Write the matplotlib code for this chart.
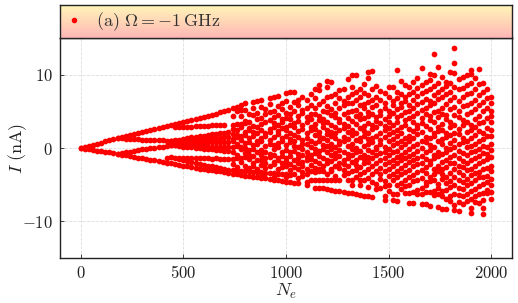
#!/usr/bin/env python

import matplotlib
matplotlib.use("Agg")
import matplotlib.pyplot as plt     # https://matplotlib.org
import numpy as np                  # https://numpy.org
from matplotlib.colors import LinearSegmentedColormap
from matplotlib.lines import Line2D
from matplotlib.ticker import FuncFormatter

# ---------------------------------------------------------------------------
# Data: current I (nA) against N_e.
# Low N_e: the fan of branches leaving the origin (sampled every 20).
# ---------------------------------------------------------------------------
ne_a = list(range(0, 721, 20))
i_a = [0.0, 0.15, 0.3, 0.45, 0.6, 0.75, 0.9, 1.05, 1.2, 1.3, 1.45, 1.6,
       1.75, 1.9, 2.0, 2.15, 2.3, 2.45, 2.6, 2.7, 2.85, 3.0, 3.15, 3.3,
       3.45, 3.6, 3.7, 3.85, 4.0, 4.1, 4.25, 4.4, 4.55, 4.7, 4.85, 5.0, 5.15]

ne_a2 = list(range(460, 701, 20))
i_a2 = [2.8, 2.8, 2.85, 2.9, 2.9, 2.95, 3.0, 3.0, 3.05, 3.1, 3.1, 3.15, 3.2]

ne_b = list(range(180, 441, 20))
i_b = [1.3, 1.3, 1.25, 1.25, 1.2, 1.2, 1.15, 1.15, 1.1, 1.1, 1.05, 1.05,
       1.0, 1.0]

ne_d = list(range(180, 441, 20))
i_d = [-0.75, -0.65, -0.55, -0.5, -0.4, -0.3, -0.2, -0.15, -0.05, 0.05,
       0.15, 0.2, 0.3, 0.4]

ne_e = list(range(0, 1021, 20))
i_e = [0.0, -0.1, -0.2, -0.25, -0.35, -0.45, -0.5, -0.6, -0.7, -0.8, -0.9,
       -1.0, -1.1, -1.2, -1.3, -1.4, -1.5, -1.6, -1.7, -1.8, -1.9, -2.0,
       -2.1, -2.2, -2.3, -2.4, -2.5, -2.6, -2.7, -2.8, -2.85, -2.95, -3.05,
       -3.15, -3.2, -3.3, -3.4, -3.5, -3.55, -3.65, -3.75, -3.8, -3.9, -4.0,
       -4.05, -4.15, -4.25, -4.3, -4.4, -4.5, -4.6, -4.7]

ne_f = list(range(420, 721, 20))
i_f = [-1.3, -1.25, -1.3, -1.3, -1.35, -1.3, -1.35, -1.4, -1.35, -1.4,
       -1.4, -1.45, -1.4, -1.45, -1.5, -1.5]

ne_g = list(range(480, 721, 20))
i_g = [-1.5, -1.6, -1.75, -1.9, -2.0, -2.15, -2.25, -2.4, -2.5, -2.65,
       -2.75, -2.9, -3.0]

ne_h = list(range(740, 1001, 20))
i_h = [-3.05, -3.1, -3.1, -3.15, -3.2, -3.25, -3.3, -3.3, -3.35, -3.4,
       -3.45, -3.5, -3.5, -3.55]

ne_mid = list(range(440, 721, 20))
i_m1 = [1.0, 1.1, 1.15, 1.25, 1.35, 1.45, 1.5, 1.6, 1.7, 1.8, 1.85, 1.95,
        2.05, 2.1, 2.2]
i_m2 = [0.9, 0.95, 0.95, 1.0, 1.05, 1.1, 1.15, 1.2, 1.25, 1.25, 1.3, 1.35,
        1.4, 1.45, 1.5]
i_m3 = [0.7, 0.7, 0.7, 0.7, 0.75, 0.75, 0.75, 0.75, 0.75, 0.8, 0.8, 0.8,
        0.8, 0.8, 0.8]
i_m4 = [0.5, 0.45, 0.45, 0.4, 0.35, 0.35, 0.3, 0.3, 0.25, 0.2, 0.2, 0.15,
        0.15, 0.1, 0.1]
i_m5 = [0.4, 0.35, 0.3, 0.2, 0.15, 0.1, 0.0, -0.05, -0.1, -0.15, -0.2,
        -0.25, -0.3, -0.35, -0.4]

# ---------------------------------------------------------------------------
# High N_e: the scattered cloud, one list of I values per N_e column.
# ---------------------------------------------------------------------------
ne_cloud_1 = list(range(740, 1001, 20))
i_cloud_1 = [
    [5.4, 4.3, 3.1, 2.6, 1.9, 1.2, 0.9, 0.1, -0.6, -1.5, -2.2],
    [5.6, 5.1, 3.3, 2.5, 1.8, 1.5, 0.6, 0.3, -0.9, -1.4, -2.6],
    [5.9, 5.2, 4.4, 3.3, 2.9, 1.6, 1.1, 0.2, -0.1, -1.3, -1.9],
    [6.1, 5.2, 3.7, 3.4, 2.2, 1.8, 0.7, 0.0, -0.7, -1.2, -2.4],
    [4.6, 3.5, 2.7, 2.4, 1.3, 0.8, -0.3, -0.9, -1.5, -2.7],
    [6.3, 5.4, 4.5, 3.0, 2.2, 1.7, 0.4, -0.2, -1.1, -2.0, -2.4],
    [6.4, 4.8, 3.9, 2.8, 2.0, 1.0, 0.6, -0.6, -1.7, -2.8],
    [6.6, 5.6, 4.1, 3.3, 2.5, 1.4, 0.9, -0.3, -1.0, -1.6, -2.3, -3.8],
    [5.3, 4.7, 3.6, 2.1, 1.6, 0.3, -0.5, -1.3, -2.0, -2.7],
    [6.8, 6.0, 4.9, 3.8, 2.6, 2.2, 1.1, 0.6, -0.8, -1.2, -2.5],
    [7.0, 5.1, 4.2, 3.4, 2.9, 1.5, 0.4, -0.2, -0.9, -1.9, -2.2, -3.9],
    [7.1, 5.7, 4.5, 3.1, 2.3, 1.9, 0.7, 0.1, -1.3, -1.6, -2.9],
    [6.2, 5.3, 3.9, 3.6, 2.7, 1.3, 1.0, -0.5, -1.1, -2.1, -2.6],
    [7.5, 6.4, 4.8, 4.1, 2.9, 2.5, 1.6, 0.4, -0.3, -1.4, -1.8, -2.5, -4.0],
]

ne_cloud_2 = list(range(1020, 1501, 20))
i_cloud_2 = [
    [7.6, 5.6, 4.6, 3.9, 3.2, 2.0, 1.2, 0.8, -0.6, -1.1, -2.2, -3.0, -3.7],
    [7.7, 6.3, 5.0, 3.4, 2.8, 1.8, 0.9, 0.3, -0.4, -1.7, -2.6, -3.5, -4.8],
    [6.6, 5.8, 4.4, 3.7, 2.3, 1.5, 0.1, -0.8, -1.3, -2.0, -2.9, -4.1, -4.8],
    [7.0, 5.2, 4.8, 3.1, 2.6, 1.1, 0.6, -0.2, -1.0, -1.9, -2.4, -3.3, -3.8],
    [6.5, 5.5, 4.2, 3.6, 2.1, 1.4, 0.5, -0.5, -1.2, -1.6, -2.8, -3.6, -4.6,
     -5.0],
    [7.3, 5.9, 4.6, 3.9, 2.9, 2.4, 1.0, 0.2, -0.9, -1.5, -2.3, -3.1, -4.4],
    [8.0, 6.8, 5.4, 4.7, 3.3, 2.6, 1.8, 0.7, -0.1, -0.7, -1.8, -2.7, -3.3,
     -4.4, -5.4],
    [8.6, 7.9, 6.0, 4.4, 3.8, 2.2, 1.6, 0.9, -0.4, -1.1, -2.0, -2.9, -3.2,
     -4.4, -5.4],
    [6.4, 5.1, 4.0, 3.4, 2.9, 1.3, 0.4, -0.2, -1.3, -2.4, -3.2, -4.4, -5.5],
    [9.1, 8.3, 7.0, 5.7, 4.9, 3.6, 2.5, 1.9, 1.1, 0.3, -0.6, -1.6, -2.1,
     -3.6, -4.4, -5.6],
    [9.0, 7.1, 5.3, 4.5, 3.1, 2.2, 1.7, 0.6, -0.1, -0.9, -1.8, -2.8, -3.2,
     -4.4, -5.7],
    [7.4, 6.2, 4.8, 4.2, 2.8, 2.0, 1.3, 0.2, -0.7, -1.4, -2.5, -3.8, -4.4,
     -5.8],
    [7.9, 6.8, 5.5, 3.9, 3.5, 2.4, 1.0, 0.5, -0.3, -1.1, -2.0, -2.7, -4.4,
     -5.9],
    [8.1, 6.4, 5.8, 4.6, 3.3, 2.7, 1.5, 0.9, -0.5, -1.6, -2.2, -3.0, -3.7,
     -6.0],
    [9.4, 7.0, 6.1, 4.9, 4.1, 3.0, 2.2, 1.2, 0.3, -0.8, -1.3, -2.5, -3.4,
     -4.4, -6.1],
    [9.9, 8.3, 7.3, 6.2, 5.0, 3.7, 2.5, 1.8, 0.6, -0.2, -1.0, -1.9, -3.2,
     -4.4, -5.0, -6.2],
    [9.9, 7.6, 6.5, 5.2, 4.4, 3.3, 2.1, 1.1, 0.0, -0.6, -1.7, -2.3, -3.0,
     -3.9, -6.3],
    [8.0, 6.9, 5.8, 4.7, 3.9, 2.7, 1.4, 0.9, -0.4, -1.2, -2.6, -3.5, -4.4,
     -5.1, -6.4],
    [8.7, 7.5, 6.0, 5.4, 4.1, 3.0, 2.3, 1.6, 0.3, -0.9, -1.5, -2.1, -3.3,
     -4.4, -6.5],
    [10.4, 9.5, 7.2, 6.3, 4.9, 4.4, 3.4, 2.0, 1.2, 0.5, -0.3, -1.2, -1.9,
     -2.9, -4.1, -5.3, -6.6],
    [10.5, 8.1, 6.6, 5.6, 4.6, 3.1, 2.6, 1.4, 0.8, -0.6, -1.4, -2.4, -3.6,
     -4.7, -6.7],
    [8.4, 7.0, 5.9, 4.2, 3.7, 2.9, 1.7, 0.2, -0.2, -1.0, -2.0, -3.1, -4.9,
     -5.6],
    [7.8, 6.6, 5.1, 4.5, 3.4, 2.1, 1.1, 0.6, -0.7, -1.6, -2.7, -3.5, -4.2,
     -5.5],
    [7.5, 6.2, 5.5, 4.0, 3.0, 2.4, 1.5, 0.1, -0.5, -1.3, -2.2, -3.2, -4.5,
     -5.2, -6.5, -7.1],
    [8.3, 6.9, 5.0, 4.4, 3.6, 2.7, 1.9, 0.9, -0.2, -0.9, -1.9, -2.9, -3.8,
     -5.0, -5.9],
]

ne_cloud_3 = list(range(1520, 2001, 20))
i_cloud_3 = [
    [8.3, 6.4, 5.8, 4.8, 3.2, 2.2, 1.2, 0.4, -0.6, -1.7, -2.5, -3.5, -4.3,
     -6.3, -7.1],
    [10.6, 7.6, 6.8, 5.3, 4.2, 3.5, 2.5, 1.6, 0.7, -0.4, -1.2, -2.1, -3.1,
     -4.0, -5.0, -6.3, -7.2],
    [9.1, 7.3, 6.1, 5.6, 4.5, 2.9, 2.0, 0.9, 0.2, -0.9, -1.6, -2.7, -3.6,
     -4.8, -5.6],
    [8.6, 7.0, 6.4, 4.9, 3.8, 3.2, 1.4, 0.5, -0.5, -1.3, -2.3, -3.3, -4.4,
     -5.2, -6.2],
    [8.3, 7.4, 5.8, 5.1, 4.1, 2.6, 1.7, 1.0, -0.2, -1.1, -1.9, -3.0, -4.0,
     -5.0, -6.2, -7.5],
    [9.0, 7.7, 6.6, 5.4, 4.4, 3.6, 2.3, 1.3, 0.3, -0.8, -1.6, -2.5, -3.7,
     -4.5, -6.0, -7.5],
    [9.6, 8.2, 7.1, 6.0, 4.8, 3.1, 2.7, 1.9, 0.6, -0.4, -1.3, -2.2, -3.3,
     -4.3, -5.7, -6.3],
    [10.9, 8.6, 7.5, 6.3, 5.2, 4.1, 3.4, 2.2, 1.0, 0.0, -1.1, -2.0, -3.0,
     -4.1, -5.4, -6.3, -7.7],
    [9.0, 7.8, 6.7, 5.5, 4.6, 3.0, 1.5, 0.8, -0.6, -1.5, -2.6, -3.4, -4.7,
     -5.1, -6.0, -7.7],
    [10.1, 9.3, 8.0, 6.4, 5.9, 4.4, 3.8, 2.6, 1.3, 0.4, -0.3, -1.8, -2.2,
     -3.9, -4.5, -6.0, -7.9],
    [12.8, 10.0, 8.5, 7.2, 6.2, 4.9, 3.5, 2.0, 1.6, 0.2, -0.9, -1.4, -2.8,
     -3.5, -4.4, -5.8, -6.4],
    [11.0, 8.9, 7.6, 6.7, 5.1, 4.2, 2.9, 2.3, 0.9, -0.5, -1.1, -2.4, -3.2,
     -4.9, -5.4, -6.3, -8.1],
    [9.7, 8.0, 7.0, 5.4, 4.7, 3.3, 2.5, 1.2, 0.5, -0.8, -1.9, -2.9, -3.6,
     -4.2, -5.9, -6.5, -8.3],
    [9.0, 8.4, 7.3, 6.0, 4.5, 3.9, 2.1, 1.5, 0.0, -0.6, -1.6, -2.6, -3.9,
     -4.8, -5.7, -7.0, -8.3],
    [10.3, 8.8, 7.6, 6.5, 5.3, 3.6, 2.8, 1.8, 0.7, -0.2, -1.2, -2.1, -3.4,
     -4.5, -5.3, -6.5, -7.2],
    [13.7, 11.6, 10.2, 8.3, 6.9, 5.6, 4.5, 3.2, 2.0, 1.1, 0.2, -0.9, -2.0,
     -2.8, -3.9, -5.0, -6.3, -7.8, -8.5],
    [9.4, 8.1, 6.4, 5.1, 4.2, 2.6, 1.9, 0.5, -0.4, -1.4, -2.4, -3.3, -4.3,
     -5.4, -6.4, -7.3, -8.6],
    [9.7, 8.2, 6.9, 5.7, 3.8, 3.1, 1.3, 0.8, -0.7, -1.8, -2.6, -3.7, -4.6,
     -5.6, -6.6, -7.6],
    [10.0, 8.6, 7.3, 5.9, 4.6, 3.5, 2.2, 1.0, 0.1, -0.9, -2.1, -3.0, -4.2,
     -5.1, -6.3, -7.2],
    [10.7, 10.1, 8.9, 7.5, 6.2, 4.9, 3.2, 2.5, 1.4, 0.3, -0.6, -1.7, -2.9,
     -3.7, -4.8, -5.8, -7.0, -8.2, -8.8],
    [9.5, 8.0, 6.6, 5.3, 4.0, 2.8, 1.8, 0.6, -0.4, -1.4, -2.5, -3.4, -4.4,
     -5.6, -6.6, -7.4],
    [10.8, 8.7, 7.2, 5.9, 4.4, 3.4, 2.3, 1.0, -0.2, -1.1, -2.0, -3.3, -4.0,
     -5.2, -6.3, -7.5],
    [8.9, 7.7, 6.3, 5.0, 3.6, 2.1, 1.2, 0.3, -0.7, -1.8, -2.8, -4.0, -4.9,
     -6.1, -7.1, -8.2, -9.0],
    [8.0, 6.8, 5.4, 4.1, 2.7, 1.6, 0.2, -0.8, -1.5, -2.7, -3.8, -4.6, -5.7,
     -6.2],
    [6.9, 6.2, 5.0, 4.3, 3.5, 2.4, 1.6, 0.5, -0.3, -1.2, -2.4, -3.1, -4.2,
     -5.0, -6.0, -6.9],
]

x_ticks = [0, 500, 1000, 1500, 2000]
y_ticks = [-10, 0, 10]
legend_label = r"$\mathrm{(a)}\ \Omega = -1\,\mathrm{GHz}$"

RED = "#ff0000"
DOT_SIZE = 17


def flatten_columns(ne_values, columns):
    """Turn one-list-per-column data into matching x / y arrays."""
    xs, ys = [], []
    for ne, col in zip(ne_values, columns):
        xs.extend([ne] * len(col))
        ys.extend(col)
    return np.array(xs), np.array(ys)


def main() -> None:
    plt.rcParams['mathtext.fontset'] = 'cm'
    plt.rcParams['font.family'] = ['DejaVu Serif']

    fig = plt.figure(figsize=(5.18, 3.03), dpi=100)
    ax = fig.add_axes([0.1158, 0.1485, 0.8726, 0.7261])
    head = fig.add_axes([0.1158, 0.8746, 0.8726, 0.1089])

    # Fan branches
    branches = [
        (ne_a, i_a), (ne_a2, i_a2), (ne_b, i_b), (ne_d, i_d), (ne_e, i_e),
        (ne_f, i_f), (ne_g, i_g), (ne_h, i_h),
        (ne_mid, i_m1), (ne_mid, i_m2), (ne_mid, i_m3), (ne_mid, i_m4),
        (ne_mid, i_m5),
    ]
    for xs, ys in branches:
        ax.scatter(xs, ys, s=DOT_SIZE, color=RED, linewidths=0, zorder=3)

    # Cloud
    for ne_values, columns in [(ne_cloud_1, i_cloud_1),
                               (ne_cloud_2, i_cloud_2),
                               (ne_cloud_3, i_cloud_3)]:
        xs, ys = flatten_columns(ne_values, columns)
        ax.scatter(xs, ys, s=DOT_SIZE, color=RED, linewidths=0, zorder=3)

    ax.set_xlim(-100, 2100)
    ax.set_ylim(-15, 15)
    ax.set_xticks(x_ticks)
    ax.set_yticks(y_ticks)
    math_fmt = FuncFormatter(lambda v, _: f"${v:g}$")
    ax.xaxis.set_major_formatter(math_fmt)
    ax.yaxis.set_major_formatter(math_fmt)
    ax.tick_params(direction='in', length=3, width=0.6, labelsize=12,
                   colors='#222222', pad=5)
    ax.grid(True, color='#dddddd', linestyle='--', linewidth=0.6)
    ax.set_axisbelow(True)
    for spine in ax.spines.values():
        spine.set_linewidth(1.0)
        spine.set_color('#222222')

    ax.set_xlabel(r"$N_e$", fontsize=13, color='#222222', labelpad=0)
    ax.set_ylabel(r"$I\ (\mathrm{nA})$", fontsize=13, color='#222222')
    ax.yaxis.set_label_coords(-0.068, 0.5)

    # Header strip with a yellow-to-pink gradient holding the legend
    cmap = LinearSegmentedColormap.from_list("head", ["#ffb6b6", "#fff6b8"])
    head.imshow(np.linspace(0, 1, 64).reshape(-1, 1), cmap=cmap,
                aspect='auto', origin='lower', extent=[0, 1, 0, 1])
    head.set_xticks([])
    head.set_yticks([])
    for spine in head.spines.values():
        spine.set_linewidth(1.0)
        spine.set_color('#222222')

    handle = Line2D([], [], linestyle='none', marker='o', markersize=4,
                    markeredgewidth=0, color=RED)
    head.legend([handle], [legend_label], loc='center left', frameon=False,
                fontsize=13, handlelength=0.8, handletextpad=0.8,
                borderaxespad=0.0, labelcolor='#333333')

    fig.savefig("out.png", dpi=100)


if __name__ == "__main__":
    main()
